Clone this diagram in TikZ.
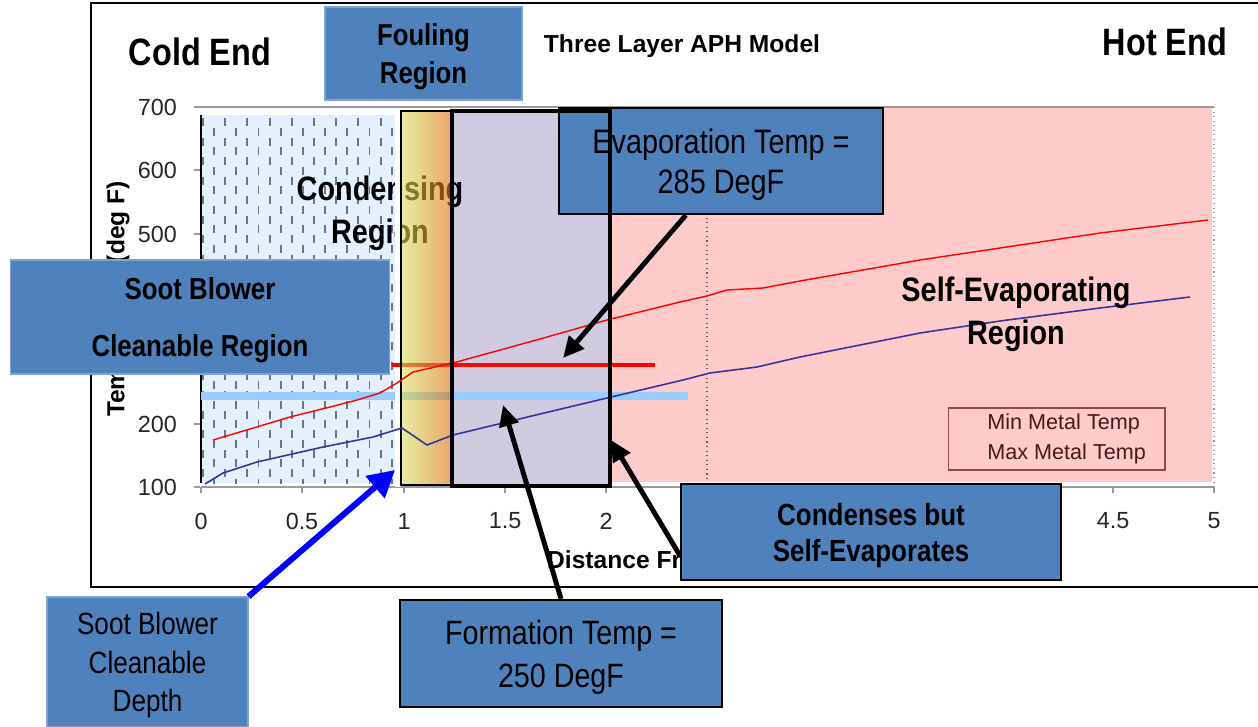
\documentclass[tikz,border=0pt]{standalone}
\usepackage{fontspec}
\setmainfont{Liberation Sans}
\newfontfamily\narrowfont[FakeStretch=0.85]{Liberation Sans}
\usetikzlibrary{arrows.meta}
\definecolor{box5}{HTML}{4F81BD}
\definecolor{boxedge}{HTML}{7FA3D3}
\definecolor{pink1}{HTML}{FFCACA}
\definecolor{lilac1}{HTML}{D1CBE2}
\definecolor{ice1}{HTML}{E4F0FC}
\definecolor{dash1}{HTML}{66768A}
\definecolor{sky1}{HTML}{99CCFF}
\definecolor{navy1}{HTML}{34349C}
\definecolor{yel1}{HTML}{D9E161}
\definecolor{org1}{HTML}{D96E0A}
\definecolor{leg1}{HTML}{8C4A4A}
\definecolor{legtxt}{HTML}{4A1818}
\definecolor{axis1}{HTML}{262626}
\definecolor{grid1}{HTML}{9A9A9A}

\begin{document}
\begin{tikzpicture}[x=0.02cm, y=-0.02cm,
  box/.style={draw=black, line width=1.3pt, fill=box5, inner sep=0pt, align=center,
    text depth=0pt, font=\narrowfont\fontsize{19.3}{23}\selectfont},
  softbox/.style={box, draw=boxedge, line width=0.6pt},
  bigbold/.style={align=center, font=\narrowfont\bfseries\fontsize{19.3}{24.4}\selectfont},
  endlabel/.style={font=\narrowfont\bfseries\fontsize{21.7}{26}\selectfont},
  ticklabel/.style={text=axis1, font=\fontsize{13.3}{15}\selectfont},
  axistitle/.style={font=\bfseries\fontsize{14}{16}\selectfont},
  dashmark/.style={draw=dash1, line width=1.1pt},
  callout/.style={line width=2.8pt, -{Triangle[length=12pt,width=11pt]}},
]
\useasboundingbox (0,0) rectangle (1258,727);

% chart frame
\draw[line width=1.2pt] (91,3) rectangle (1262,587);

% axes
\draw[grid1, line width=0.6pt] (194,107) -- (1214,107);
\draw[grid1, line width=0.6pt] (201,487) -- (1214,487);
\draw[grid1, dotted, line width=0.6pt] (1214,107) -- (1214,487);
\foreach \ty in {107,170,234,297,360,424,487}
  \draw[grid1, line width=0.6pt] (194,\ty) -- (200,\ty);
\foreach \tx in {201,302,404,505,606,707,809,910,1011,1113,1214}
  \draw[grid1, line width=0.6pt] (\tx,487) -- (\tx,493);
\node[ticklabel, anchor=east] (y700) at (183,107) {700};
\node[ticklabel, anchor=east] (y600) at (183,170) {600};
\node[ticklabel, anchor=east] (y500) at (183,234) {500};
\node[ticklabel, anchor=east] (y200) at (183,424) {200};
\node[ticklabel, anchor=east] (y100) at (183,487) {100};
\node[ticklabel] (x0) at (201,521) {0};
\node[ticklabel] (x05) at (302,521) {0.5};
\node[ticklabel] (x1) at (404,521) {1};
\node[ticklabel] (x15) at (505,521) {1.5};
\node[ticklabel] (x2) at (606,521) {2};
\node[ticklabel] (x45) at (1113,521) {4.5};
\node[ticklabel] (x5) at (1214,521) {5};
\node[axistitle, rotate=90] (ytitle) at (118,299) {Temperature (deg F)};
\node[axistitle, anchor=west] (xtitle) at (541,560) {Distance From};

% regions
\fill[pink1] (610,108) rectangle (1212,482);
\draw[leg1, dotted, line width=0.6pt] (707,108) -- (707,484);
\fill[ice1] (201,115) rectangle (395,483);
\begin{scope}
  \clip (201,115) rectangle (395,483);
  \foreach \i in {0,...,17} {
    \pgfmathsetmacro\dy{mod(\i,2)*9.5}
    \foreach \j in {0,...,18}
      \draw[dashmark] (203+11.1*\i, 118+\dy+19.5*\j) -- ++(0,8);
  }
\end{scope}
\draw[line width=1.2pt] (201,115) -- (201,483);
\fill[lilac1] (452,111) rectangle (610,486);

\draw[sky1, line width=4pt] (201,396) -- (688,396);
\node[bigbold] (condensing) at (380,213.5) {Condensing\\Region};
\fill[white] (395,110) rectangle (401,487);
\draw[red, line width=2.8pt] (392,365) -- (655,365);
\shade[left color=yel1, right color=org1, opacity=0.6] (401,111) rectangle (451,485);
\draw[line width=0.6pt] (401,111) rectangle (451,485);

% metal temperatures
\draw[red, line width=0.8pt] (213,440) -- (250,429) -- (290,417) -- (330,407)
  -- (357,400) -- (380,393) -- (397,383) -- (413,372) -- (453,363) -- (540,339)
  -- (607,320) -- (680,302) -- (707,296) -- (727,290) -- (763,288) -- (800,281)
  -- (920,260) -- (1000,248) -- (1100,233) -- (1208,220);
\draw[navy1, line width=0.9pt] (205,484) -- (223,473) -- (257,462) -- (323,447)
  -- (373,437) -- (402,428) -- (427,445) -- (453,435) -- (540,414) -- (607,398)
  -- (683,380) -- (710,373) -- (757,367) -- (800,357) -- (920,333) -- (1000,321)
  -- (1100,308) -- (1190,297);

\node[box, minimum width=6.48cm, minimum height=2.12cm] (evap) at (721,161)
  {Evaporation Temp =\\285 DegF};
\draw[line width=2.8pt] (452,111) rectangle (610,486);

\node[bigbold] (selfevap) at (1016,314) {Self-Evaporating\\Region};

% legend
\node[draw=leg1, line width=0.6pt, minimum width=4.34cm, minimum height=1.24cm,
  inner sep=0pt] (legend) at (1056.5,439) {};
\node[anchor=west, align=left, text=legtxt, inner sep=0pt,
  font=\fontsize{12.3}{17}\selectfont] (legendtxt) at (987,439)
  {Min Metal Temp\\Max Metal Temp};

% titles
\node[endlabel] (coldend) at (200,52) {Cold End};
\node[endlabel] (hotend) at (1165,42) {Hot End};
\node[font=\bfseries\fontsize{14}{16}\selectfont] (model) at (682,46) {Three Layer APH Model};

% callouts
\node[softbox, minimum width=3.94cm, minimum height=1.86cm,
  font=\narrowfont\bfseries\fontsize{17.2}{21.5}\selectfont] (fouling) at (423.5,53.5)
  {Fouling\\Region};
\node[softbox, minimum width=7.6cm, minimum height=2.28cm,
  font=\narrowfont\bfseries\fontsize{17.3}{32}\selectfont] (sootregion) at (200,317)
  {Soot Blower\\Cleanable Region};
\node[box, minimum width=7.6cm, minimum height=1.92cm,
  font=\narrowfont\bfseries\fontsize{17.4}{20.4}\selectfont] (selfcond) at (871,532)
  {Condenses but\\Self-Evaporates};
\node[softbox, minimum width=4.02cm, minimum height=2.6cm,
  font=\narrowfont\fontsize{17.5}{21.8}\selectfont] (sootdepth) at (147.5,662)
  {Soot Blower\\Cleanable\\Depth};
\node[box, minimum width=6.44cm, minimum height=2.14cm,
  font=\narrowfont\fontsize{19.2}{24.4}\selectfont] (formation) at (561,653.5)
  {Formation Temp =\\250 DegF};

\coordinate (evaptip) at (563,358);
\coordinate (formtip) at (503,405);
\coordinate (selftip) at (611,440);
\coordinate (depthtip) at (395,470);
\draw[callout] (evap.237) -- (evaptip);
\draw[callout] (formation.north) -- (formtip);
\draw[callout] (selfcond.187) -- (selftip);
\draw[blue, line width=3.4pt, -{Triangle[length=15pt,width=16pt]}] (sootdepth.north east) -- (depthtip);
\end{tikzpicture}
\end{document}
